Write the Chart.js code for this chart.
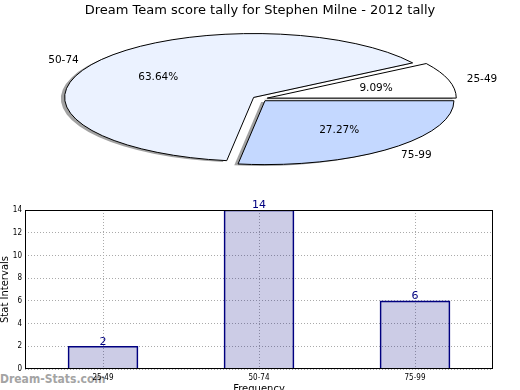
<!DOCTYPE html>
<html>
<head>
<meta charset="utf-8">
<script src="https://cdn.jsdelivr.net/npm/chart.js@4.4.1/dist/chart.umd.min.js"></script>
<style>
  body { margin: 0; background: #fff; }
  #wrap { position: relative; width: 520px; height: 390px; overflow: hidden; }
  #pieChart { position: absolute; left: 0; top: 0; }
  #barChart { position: absolute; left: 0; top: 195px; }
  #mark { position: absolute; left: 0; top: 372px; font: bold 12px 'DejaVu Sans Condensed'; color: #a4a4a4; }
</style>
</head>
<body>
<div id="wrap">
  <div id="mark">Dream-Stats.com</div>
  <canvas id="pieChart" width="520" height="200"></canvas>
  <canvas id="barChart" width="520" height="195"></canvas>
</div>
<script>
const chartTitle = 'Dream Team score tally for Stephen Milne - 2012 tally';
const categories = ['25-49', '50-74', '75-99'];
const counts = [2, 14, 6];
const yTicksMax = 14;
const yTicksStep = 2;
const xAxisTitle = 'Frequency';
const yAxisTitle = 'Stat Intervals';

const sliceColors = ['#ffffff', '#ebf2ff', '#c4d8ff'];
const pieRadius = 189;
const pieSquash = 0.338;
const explode = 0.04;

Chart.defaults.font.family = 'DejaVu Sans';
Chart.defaults.color = '#000';

// matplotlib goes counter-clockwise from east, chart.js goes clockwise,
// so feed the slices in reverse and start at east
const pieLabels = categories.slice().reverse();
const pieValues = counts.slice().reverse();
const pieColors = sliceColors.slice().reverse();

function wedgePath(ctx, p, dx, dy) {
    const mid = (p.startAngle + p.endAngle) / 2;
    const e = explode * p.outerRadius;
    const cx = p.x + e * Math.cos(mid) + dx;
    const cy = p.y + e * Math.sin(mid) * pieSquash + dy;
    ctx.beginPath();
    ctx.moveTo(cx, cy);
    ctx.ellipse(cx, cy, p.outerRadius, p.outerRadius * pieSquash, 0, p.startAngle, p.endAngle);
    ctx.closePath();
}

const ellipsePie = {
    id: 'ellipsePie',
    beforeDatasetsDraw(chart) {
        const ctx = chart.ctx;
        const meta = chart.getDatasetMeta(0);
        const props = meta.data.map(a => a.getProps(['x', 'y', 'startAngle', 'endAngle', 'outerRadius']));
        const total = pieValues.reduce((acc, v) => acc + v, 0);

        ctx.save();
        // shadows first
        props.forEach(p => {
            wedgePath(ctx, p, -0.02 * p.outerRadius, 0.02 * p.outerRadius * pieSquash);
            ctx.fillStyle = 'rgba(70,70,70,0.5)';
            ctx.fill();
        });
        props.forEach((p, i) => {
            wedgePath(ctx, p, 0, 0);
            ctx.fillStyle = pieColors[i];
            ctx.fill();
            ctx.lineWidth = 1;
            ctx.strokeStyle = '#000';
            ctx.stroke();
        });
        ctx.font = '10.5px "DejaVu Sans"';
        ctx.fillStyle = '#000';
        ctx.textBaseline = 'middle';
        props.forEach((p, i) => {
            const mid = (p.startAngle + p.endAngle) / 2;
            const e = explode * p.outerRadius;
            const cx = p.x + e * Math.cos(mid);
            const cy = p.y + e * Math.sin(mid) * pieSquash;
            const r = p.outerRadius;
            ctx.textAlign = Math.cos(mid) > 0 ? 'left' : 'right';
            ctx.fillText(pieLabels[i], cx + 1.1 * r * Math.cos(mid), cy + 1.1 * r * pieSquash * Math.sin(mid) + 1);
            ctx.textAlign = 'center';
            const pct = (pieValues[i] / total * 100).toFixed(2) + '%';
            ctx.fillText(pct, cx + 0.6 * r * Math.cos(mid), cy + 0.6 * r * pieSquash * Math.sin(mid) + 1);
        });
        ctx.restore();
        return false;
    }
};

new Chart(document.getElementById('pieChart'), {
    type: 'pie',
    data: {
        labels: pieLabels,
        datasets: [{
            data: pieValues,
            backgroundColor: pieColors,
            borderWidth: 0,
            radius: pieRadius
        }]
    },
    options: {
        responsive: false,
        animation: false,
        rotation: 90,
        layout: { padding: { top: 0, bottom: 21, left: 0, right: 0 } },
        plugins: {
            legend: { display: false },
            tooltip: { enabled: false },
            title: {
                display: true,
                text: chartTitle,
                color: '#000',
                font: { size: 13, weight: 'normal' },
                padding: { top: 3, bottom: 0 }
            }
        }
    },
    plugins: [ellipsePie]
});

const barExtras = {
    id: 'barExtras',
    afterDraw(chart) {
        const ctx = chart.ctx;
        const a = chart.chartArea;
        ctx.save();
        ctx.strokeStyle = '#000';
        ctx.lineWidth = 1;
        ctx.strokeRect(Math.round(a.left) + 0.5, Math.round(a.top) + 0.5, Math.round(a.right - a.left) - 1, Math.round(a.bottom - a.top) - 1);

        ctx.font = '11px "DejaVu Sans"';
        ctx.fillStyle = '#000080';
        ctx.textAlign = 'center';
        ctx.textBaseline = 'bottom';
        chart.getDatasetMeta(0).data.forEach((bar, i) => {
            ctx.fillText(String(counts[i]), bar.x, bar.y + 1);
        });
        ctx.restore();
    }
};

new Chart(document.getElementById('barChart'), {
    type: 'bar',
    data: {
        labels: categories,
        datasets: [{
            data: counts,
            backgroundColor: 'rgba(0,0,128,0.2)',
            borderColor: '#000080',
            borderWidth: 1,
            barThickness: 70
        }]
    },
    options: {
        responsive: false,
        animation: false,
        layout: { padding: { top: 15, right: 27, left: 0, bottom: 0 } },
        plugins: {
            legend: { display: false },
            tooltip: { enabled: false }
        },
        scales: {
            x: {
                afterFit: s => { s.height = 21; },
                grid: { offset: false, color: '#aaa', drawTicks: false },
                border: { display: false, dash: [1, 2] },
                ticks: { font: { size: 8, family: 'DejaVu Sans Condensed' }, padding: 4, maxRotation: 0 },
                title: { display: true, text: xAxisTitle, font: { size: 10 }, padding: { top: 0, bottom: -5 } }
            },
            y: {
                min: 0,
                max: yTicksMax,
                afterFit: s => { s.width = 25; },
                grid: { color: '#aaa', drawTicks: false },
                border: { display: false, dash: [1, 2] },
                ticks: { stepSize: yTicksStep, font: { size: 8, family: 'DejaVu Sans Condensed' }, padding: 3 },
                title: { display: true, text: yAxisTitle, font: { size: 10 }, padding: { top: -1, bottom: 0 } }
            }
        }
    },
    plugins: [barExtras]
});
</script>
</body>
</html>
